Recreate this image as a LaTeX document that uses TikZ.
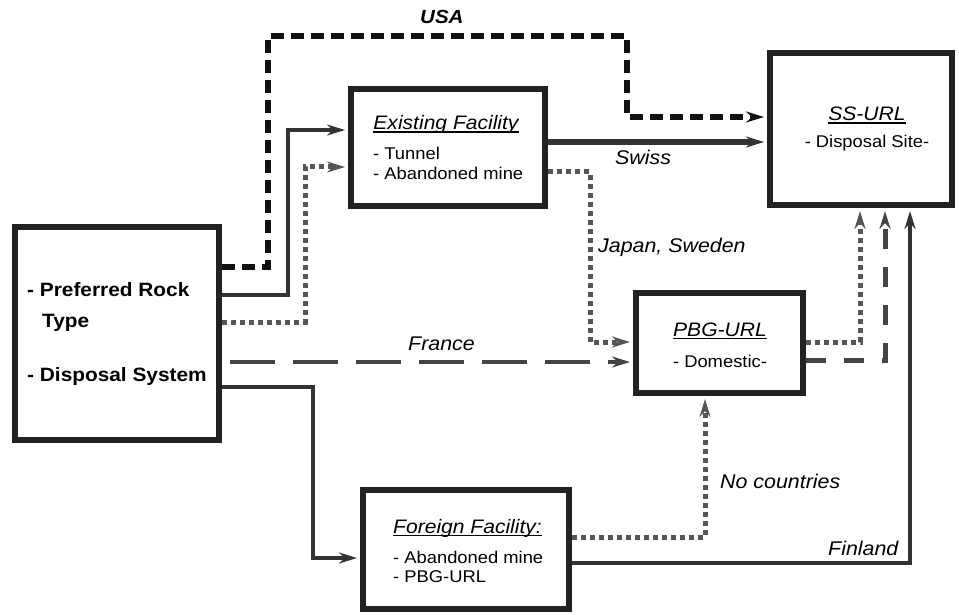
\documentclass[tikz,border=0pt]{standalone}
\usepackage{fontspec}
\setmainfont[FakeStretch=1.08]{Liberation Sans}
\usetikzlibrary{arrows.meta}
\definecolor{boxc}{HTML}{222222}
\definecolor{solc}{HTML}{333333}
\definecolor{dotc}{HTML}{555555}
\definecolor{usac}{HTML}{111111}
\definecolor{frc}{HTML}{444444}
\newcommand\myul[1]{\setbox0\hbox{#1}\rlap{\rule[-2.8pt]{\wd0}{1.3pt}}\box0}
\begin{document}
\begin{tikzpicture}[x=1pt,y=-1pt,
  box/.style={draw=boxc,line width=6pt,fill=white,inner sep=0pt,rectangle},
  tip/.style={-{Stealth[length=18pt,width=11pt,inset=6pt]},shorten >=3pt},
  solidln/.style={tip,draw=solc,line width=4.5pt},
  dotln/.style={tip,draw=dotc,line width=5pt,dash pattern=on 5pt off 4pt},
  usaln/.style={tip,draw=usac,line width=6pt,dash pattern=on 13pt off 7pt},
  frln/.style={tip,draw=frc,line width=4pt,dash pattern=on 45pt off 18pt,dash phase=-8pt},
  pbgln/.style={tip,draw=frc,line width=5pt,dash pattern=on 20pt off 18pt},
  ttl/.style={font=\fontsize{19.5}{22}\selectfont\itshape},
  itm/.style={font=\fontsize{17}{19}\selectfont},
  lbl/.style={font=\fontsize{19.8}{22}\selectfont\itshape},
  big/.style={font=\fontsize{19.3}{22}\selectfont\bfseries},
  every node/.append style={inner sep=0pt}]
\useasboundingbox[fill=white] (0,0) rectangle (959,615);

% boxes
\node[box,minimum width=204pt,minimum height=213pt] (src) at (117,333) {};
\node[box,minimum width=194pt,minimum height=116pt] (ex) at (448,147.5) {};
\node[box,minimum width=182pt,minimum height=152pt] (ss) at (861,129) {};
\node[box,minimum width=167pt,minimum height=100pt] (pbg) at (719.5,343) {};
\node[box,minimum width=206pt,minimum height=119pt] (ff) at (466,549.5) {};

% box texts
\node[big,anchor=base west] (s1) at (27,296) {- Preferred Rock};
\node[big,anchor=base west] (s2) at (42,327) {Type};
\node[big,anchor=base west] (s3) at (27,381) {- Disposal System};

\node[ttl,anchor=base] (e0) at (446,130) {\myul{Existing Facility}};
\node[itm,anchor=base west] (e1) at (373,160) {- Tunnel};
\node[itm,anchor=base west] (e2) at (373,180) {- Abandoned mine};

\node[ttl,anchor=base] (ss0) at (867,121) {\myul{SS-URL}};
\node[itm,anchor=base] (ss1) at (867,148) {- Disposal Site-};

\node[ttl,anchor=base] (p0) at (720,336) {\myul{PBG-URL}};
\node[itm,anchor=base] (p1) at (720,367) {- Domestic-};

\node[ttl,anchor=base west] (f0) at (393,533) {\myul{Foreign Facility:}};
\node[itm,anchor=base west] (f1) at (393,563) {- Abandoned mine};
\node[itm,anchor=base west] (f2) at (393,582) {- PBG-URL};

% connectors
\draw[usaln] (src.east |- 0,267) -| (268,36) -| (627,117) -- (ss.west |- 0,117);
\draw[solidln] (src.east |- 0,295) -| (288,130) -- (ex.west |- 0,130);
\draw[dotln] (src.east |- 0,322) -| (305,167) -- (ex.west |- 0,167);
\draw[solidln,line width=6pt] (ex.east |- 0,142) -- (ss.west |- 0,142);
\draw[dotln] (ex.east |- 0,172) -| (590,342) -- (pbg.west |- 0,342);
\draw[frln] (src.east |- 0,362) -- (pbg.west |- 0,362);
\draw[solidln] (src.east |- 0,387) -| (313,558) -- (ff.west |- 0,558);
\draw[dotln] (ff.east |- 0,537) -| (pbg.south -| 705,0);
\draw[solidln] (ff.east |- 0,563) -| (ss.south -| 910,0);
\draw[dotln] (pbg.east |- 0,342) -| (ss.south -| 860,0);
\draw[pbgln] (pbg.east |- 0,360) -| (ss.south -| 885,0);

% labels
\node[anchor=base west,font=\fontsize{19}{22}\selectfont\bfseries\itshape] (lusa) at (420,24) {USA};
\node[lbl,anchor=base west] (lsw) at (615,165) {Swiss};
\node[lbl,anchor=base west] (ljs) at (598,252) {Japan, Sweden};
\node[lbl,anchor=base west] (lfr) at (408,350) {France};
\node[lbl,anchor=base west] (lnc) at (720,488) {No countries};
\node[lbl,anchor=base west] (lfi) at (828,555) {Finland};
\end{tikzpicture}
\end{document}
